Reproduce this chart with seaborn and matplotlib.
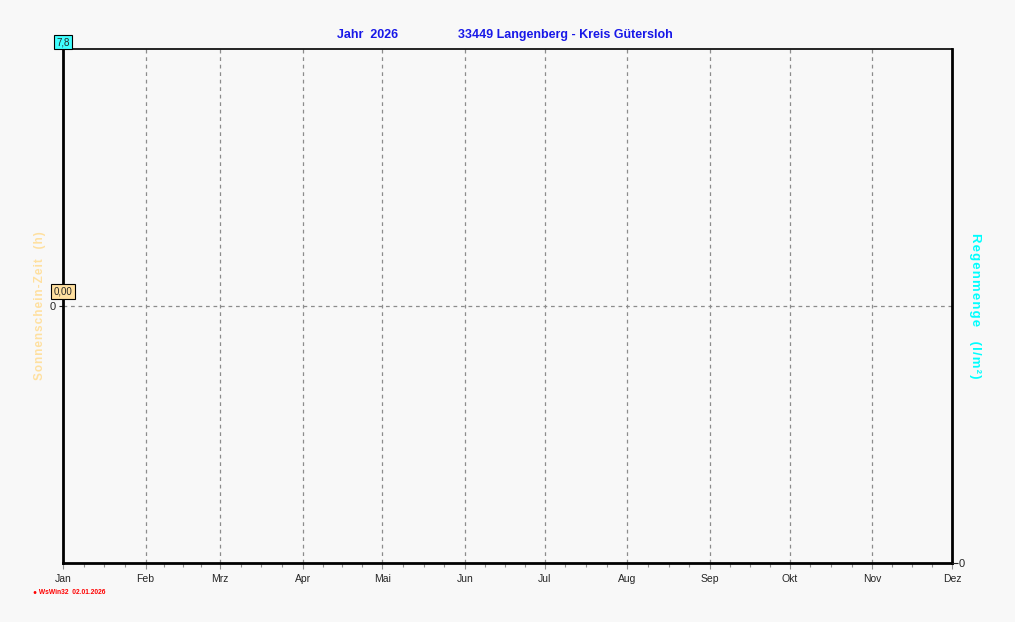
import matplotlib
matplotlib.use("Agg")
import matplotlib.pyplot as plt
import seaborn as sns
import pandas as pd
import numpy as np

# month labels and start day of each month (day of year, 2026)
monate = ["Jan", "Feb", "Mrz", "Apr", "Mai", "Jun", "Jul", "Aug", "Sep", "Okt", "Nov", "Dez"]
monat_start = [0, 31, 59, 90, 120, 151, 181, 212, 243, 273, 304, 334]

# no measured values yet in the new year -> empty series
sonne_tag = []
sonne_h = []
regen_tag = []
regen_mm = []

y_max = 7.8
y_wert_null = 0.00

sns.set_style("white")
plt.rcParams["font.family"] = ["Liberation Sans", "DejaVu Sans"]


def gesperrt(txt):
    # letter spacing like the original pixel font
    return "\u200a".join(txt)


fig = plt.figure(figsize=(10.15, 6.22), dpi=100, facecolor="#f8f8f8")
ax = fig.add_axes([63 / 1015, 1 - 563 / 622, 889 / 1015, 514 / 622])
ax.set_facecolor("#f8f8f8")

df_sonne = pd.DataFrame({"tag": sonne_tag, "h": sonne_h})
sns.lineplot(data=df_sonne, x="tag", y="h", ax=ax, color="#ffe0a0")

ax.set_xlim(monat_start[0], monat_start[-1])
ax.set_ylim(-y_max, y_max)

# month grid
for d in monat_start[1:-1]:
    ax.axvline(d, color="#8c8c8c", lw=0.9, ls=(0, (3, 3)), zorder=0)
ax.axhline(0, color="#8c8c8c", lw=0.9, ls=(0, (3, 3)), zorder=0)

ax.set_xticks(monat_start)
ax.set_xticklabels(monate, fontsize=7.5)
minor = []
for a, b in zip(monat_start[:-1], monat_start[1:]):
    minor += [a + (b - a) * k / 4 for k in (1, 2, 3)]
ax.set_xticks(minor, minor=True)
ax.tick_params(axis="x", which="major", length=4, width=0.8, color="#909090", pad=4, bottom=True)
ax.tick_params(axis="x", which="minor", length=3, width=0.8, color="#909090", bottom=True)

ax.set_yticks([0])
ax.set_yticklabels(["0"], fontsize=8)
ax.tick_params(axis="y", length=3, width=0.8, pad=2, left=True)
ax.set_xlabel("")
ax.set_ylabel("")

for s in ["left", "right", "bottom"]:
    ax.spines[s].set_linewidth(2)
    ax.spines[s].set_color("black")
ax.spines["top"].set_linewidth(1.2)
ax.spines["top"].set_color("black")

# right axis: rain
ax2 = ax.twinx()
df_regen = pd.DataFrame({"tag": regen_tag, "mm": regen_mm})
sns.lineplot(data=df_regen, x="tag", y="mm", ax=ax2, color="cyan")
ax2.set_ylim(0, 1)
ax2.set_yticks([0])
ax2.set_yticklabels(["0"], fontsize=8)
ax2.tick_params(axis="y", length=4, width=0.8, pad=1, right=True)
ax2.set_ylabel("")
for s in ax2.spines.values():
    s.set_visible(False)

# value boxes
ax.annotate(f"{y_max:.1f}".replace(".", ","), xy=(0, y_max), xytext=(0, 5), textcoords="offset points",
            ha="center", va="center", fontsize=7,
            bbox=dict(boxstyle="square,pad=0.2", fc="#40ffff", ec="black", lw=0.8))
ax.annotate(f"{y_wert_null:.2f}".replace(".", ","), xy=(0, 0), xytext=(0, 10.5), textcoords="offset points",
            ha="center", va="center", fontsize=7,
            bbox=dict(boxstyle="square,pad=0.25", fc="#ffe0a0", ec="black", lw=0.8))

# titles and axis labels
fig.text(368 / 1015, 1 - 35 / 622, "Jahr  2026", color="#1818e8", fontsize=9,
         fontweight="bold", ha="center", va="center")
fig.text(565 / 1015, 1 - 35 / 622, "33449 Langenberg - Kreis Gütersloh", color="#1818e8",
         fontsize=9, fontweight="bold", ha="center", va="center")
fig.text(40 / 1015, 1 - 306 / 622, gesperrt("Sonnenschein-Zeit") + "   " + gesperrt("(h)"),
         color="#ffe0a0", fontsize=8.5, fontweight="bold", rotation=90, ha="center", va="center")
fig.text(975 / 1015, 1 - 306 / 622, gesperrt("Regenmenge") + "    " + gesperrt("(l/m²)"),
         color="#00ffff", fontsize=9.5, fontweight="bold", rotation=-90, ha="center", va="center")
fig.text(33 / 1015, 1 - 593 / 622, "● WsWin32  02.01.2026", color="#ff0000",
         fontsize=4.8, fontweight="bold", ha="left", va="center")

fig.savefig("out.png", dpi=100, facecolor=fig.get_facecolor())
